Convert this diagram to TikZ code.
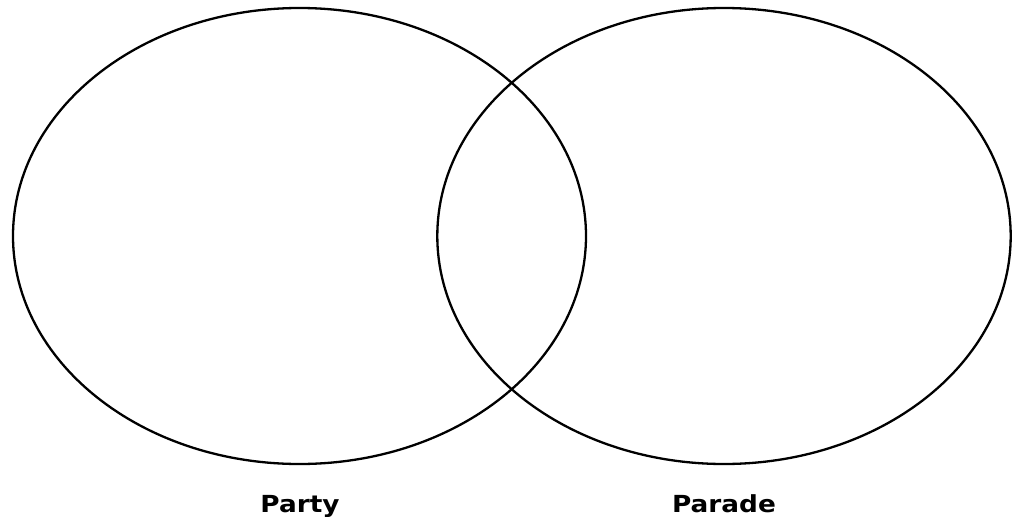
\documentclass[tikz,border=0pt]{standalone}
\usepackage{fontspec}
\setmainfont{DejaVu Sans}
\begin{document}
\begin{tikzpicture}[x=1pt,y=-1pt,line width=2.3pt]
\tikzset{setlabel/.style={font=\bfseries\fontsize{23.5}{23.5}\selectfont,anchor=base,inner sep=0pt,xscale=1.12,transform shape}}

% Frame of the whole picture (pixel units).
\useasboundingbox (0,0) rectangle (1013,517);

% The two sets.
\draw (299.5,236) ellipse (286.5 and 228);
\draw (724,236) ellipse (286.7 and 228);

% Set names under the ellipses.
\node[setlabel] (party) at (300,512) {Party};
\node[setlabel] (parade) at (724,512) {Parade};
\end{tikzpicture}
\end{document}
